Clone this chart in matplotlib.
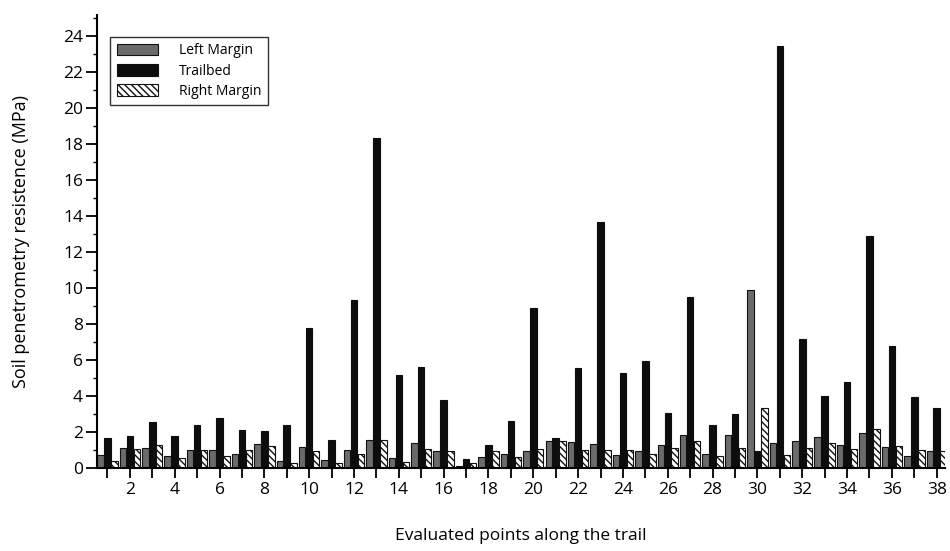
import numpy as np
import matplotlib
matplotlib.use("Agg")
import matplotlib.pyplot as plt
from matplotlib.ticker import MultipleLocator, FixedLocator

plt.rcParams['font.family'] = ['Open Sans', 'DejaVu Sans']
plt.rcParams['hatch.linewidth'] = 1.0

points = list(range(1, 39))
left_margin = [0.74, 1.11, 1.11, 0.69, 0.98, 0.98, 0.80, 1.33, 0.41, 1.17,
               0.46, 0.98, 1.57, 0.56, 1.41, 0.94, 0.09, 0.63, 0.80, 0.94,
               1.52, 1.46, 1.35, 0.74, 0.94, 1.28, 1.81, 0.80, 1.81, 9.90,
               1.41, 1.52, 1.70, 1.28, 1.94, 1.17, 0.69, 0.94]
trailbed = [1.65, 1.76, 2.54, 1.76, 2.37, 2.78, 2.13, 2.07, 2.37, 7.76,
            1.57, 9.33, 18.33, 5.18, 5.61, 3.80, 0.50, 1.28, 2.59, 8.89,
            1.65, 5.56, 13.67, 5.26, 5.96, 3.04, 9.50, 2.37, 2.98, 0.94,
            23.46, 7.17, 4.00, 4.76, 12.90, 6.79, 3.93, 3.31]
right_margin = [0.41, 1.06, 1.30, 0.56, 0.98, 0.69, 0.98, 1.24, 0.26, 0.94,
                0.26, 0.80, 1.57, 0.33, 1.04, 0.94, 0.26, 0.94, 0.61, 1.04,
                1.52, 0.98, 0.98, 0.98, 0.80, 1.11, 1.52, 0.69, 1.11, 3.31,
                0.74, 1.11, 1.41, 1.04, 2.17, 1.22, 0.98, 0.94]
x_ticks = list(range(2, 39, 2))
y_ticks = list(range(0, 25, 2))
series_names = ['Left Margin', 'Trailbed', 'Right Margin']

fig = plt.figure(figsize=(9.5, 5.51), dpi=100)
ax = fig.add_axes([0.102, 0.1506, 0.893, 0.8224])

x = np.array(points, dtype=float)
w = 0.29
off = 0.31
ax.bar(x - off, left_margin, width=w, color='#6b6b6b', edgecolor='#111111',
       linewidth=0.8, label=series_names[0])
ax.bar(x, trailbed, width=w, color='#0d0d0d', edgecolor='#0d0d0d',
       linewidth=0.8, label=series_names[1])
ax.bar(x + off, right_margin, width=w, color='white', edgecolor='#111111',
       linewidth=0.8, hatch='\\\\\\\\\\', label=series_names[2])

ax.set_xlim(0.53, 38.38)
ax.set_ylim(0, 25.2)

ax.spines['top'].set_visible(False)
ax.spines['right'].set_visible(False)
ax.spines['left'].set_linewidth(1.5)
ax.spines['bottom'].set_linewidth(1.5)

ax.xaxis.set_major_locator(FixedLocator(x_ticks))
ax.xaxis.set_minor_locator(MultipleLocator(1))
ax.set_xticklabels([str(t) for t in x_ticks])
ax.yaxis.set_major_locator(FixedLocator(y_ticks))
ax.yaxis.set_minor_locator(MultipleLocator(1))
ax.set_yticklabels([str(t) for t in y_ticks])

ax.tick_params(axis='x', which='both', direction='out', length=7, width=1.3,
               labelsize=12.5, pad=3)
ax.tick_params(axis='y', which='major', direction='out', length=8, width=1.3,
               labelsize=12.5, pad=2)
ax.tick_params(axis='y', which='minor', direction='out', length=3, width=1.0)

ax.set_ylabel('Soil penetrometry resistence (MPa)', fontsize=13, labelpad=24)
ax.set_xlabel('Evaluated points along the trail', fontsize=12.5, labelpad=22)

leg = ax.legend(loc='upper left', bbox_to_anchor=(0.016, 0.951), fontsize=10,
                frameon=True, fancybox=False, edgecolor='black',
                handlelength=3.0, handleheight=0.9, labelspacing=0.38,
                borderpad=0.45, handletextpad=1.5, borderaxespad=0)
leg.get_frame().set_linewidth(1.0)

fig.savefig('out.png', dpi=100)
